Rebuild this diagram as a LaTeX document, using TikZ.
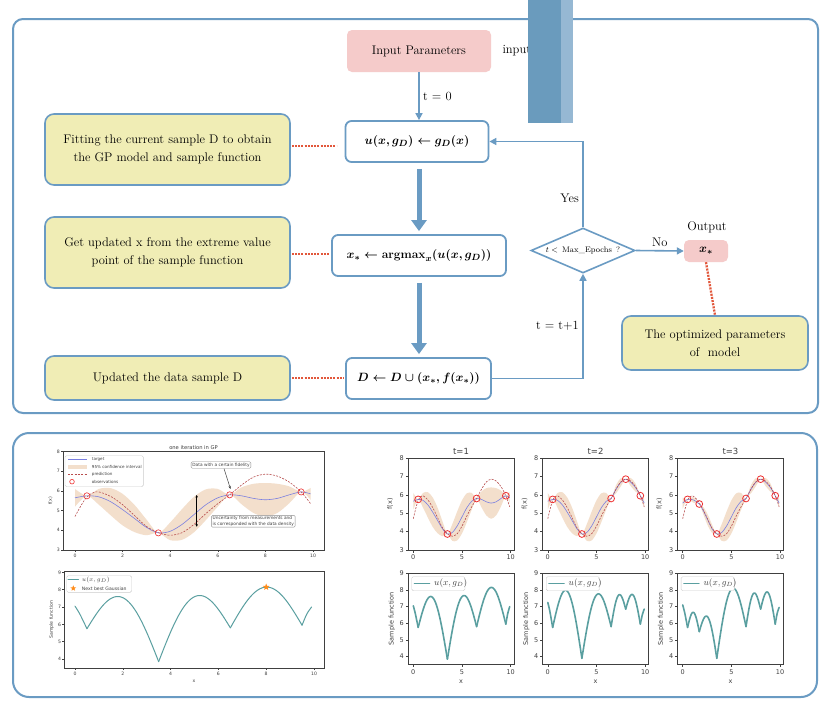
\documentclass[tikz,border=0pt]{standalone}
\usepackage{fontspec}
\newfontfamily\plotfont{DejaVu Sans}
\usetikzlibrary{arrows.meta,shapes.geometric,calc}
\definecolor{fblue}{HTML}{6A9BC3}
\definecolor{pinkf}{HTML}{F5CBCA}
\definecolor{yellf}{HTML}{F0EDB5}
\definecolor{redd}{HTML}{E2573B}
\definecolor{barA}{HTML}{6A9BBD}
\definecolor{barB}{HTML}{96B8D3}
\definecolor{axc}{HTML}{404040}
\definecolor{bandc}{HTML}{F3DFCC}
\definecolor{tgtc}{HTML}{7A7FE0}
\definecolor{predc}{HTML}{B84D4D}
\definecolor{obsc}{HTML}{EE3030}
\definecolor{tealc}{HTML}{5A9FA0}
\definecolor{starc}{HTML}{FF8C1A}
\definecolor{legc}{HTML}{CCCCCC}
\tikzset{
  outframe/.style={draw=fblue, line width=2pt},
  lbl/.style={font=\fontsize{12.5}{15}\selectfont},
  procbox/.style={draw=fblue, line width=1.8pt, fill=white, rounded corners=6pt, minimum height=41pt, inner sep=0pt, font=\fontsize{12.5}{15}\selectfont\boldmath},
  notebox/.style={draw=fblue, line width=1.6pt, fill=yellf, rounded corners=9pt, align=center, inner sep=0pt, minimum width=245pt, font=\fontsize{12.5}{18.3}\selectfont},
  pinkbox/.style={fill=pinkf, rounded corners=5pt, inner sep=0pt},
  dotl/.style={draw=redd, line width=2.3pt, dash pattern=on 2pt off 1.2pt},
  tarrow/.style={draw=fblue, line width=1.6pt, -{Triangle[length=7pt,width=7pt]}},
  karrow/.style={draw=fblue, line width=5pt, -{Triangle[length=11pt,width=15pt]}},
  axf/.style={draw=axc, line width=0.5pt},
  tkS/.style={font=\plotfont\fontsize{6.5}{7}\selectfont, inner sep=0pt, text=axc},
  tkL/.style={font=\plotfont\fontsize{4.6}{5}\selectfont, inner sep=0pt, text=axc},
  tgtl/.style={draw=tgtc, line width=0.6pt},
  predl/.style={draw=predc, line width=0.6pt, dash pattern=on 2pt off 1.3pt},
  obsS/.style={draw=obsc, line width=0.8pt},
  samp/.style={draw=tealc, line width=1.6pt, line cap=round, line join=round},
  legbox/.style={draw=legc, line width=0.4pt, fill=white, rounded corners=1.5pt},
}
% curves
\newcommand{\predcurve}{\draw[predl] plot[smooth] coordinates {(0,4.7) (0.25,5.25) (0.5,5.7) (0.75,5.9) (1,5.95) (1.5,5.72) (2,5.3) (2.5,4.75) (3,4.2) (3.5,3.88) (4,3.75) (4.5,3.88) (5,4.3) (5.5,4.85) (6,5.35) (6.5,5.8) (7,6.3) (7.5,6.7) (8,6.85) (8.5,6.75) (9,6.45) (9.5,5.95) (9.9,5.35)};}
\newcommand{\meanone}{\draw[tgtl] plot[smooth] coordinates {(0,5.65) (0.5,5.75) (1,5.7) (1.5,5.45) (2,5.05) (2.5,4.6) (3,4.15) (3.5,3.87) (4,3.95) (4.5,4.3) (5,4.8) (5.5,5.3) (6,5.65) (6.5,5.8) (7,5.75) (7.5,5.62) (8,5.55) (8.5,5.62) (9,5.8) (9.5,5.95) (9.9,5.85)};}
\newcommand{\bandone}{\fill[bandc] plot[smooth] coordinates {(0,6.10) (0.5,5.75) (1,6.10) (1.5,6.14) (2,5.85) (2.5,5.29) (3,4.55) (3.5,3.87) (4,4.40) (4.5,5.08) (5,5.70) (5.5,6.08) (6,6.10) (6.5,5.80) (7,6.18) (7.5,6.36) (8,6.40) (8.5,6.36) (9,6.23) (9.5,5.95) (9.9,6.15)} -- plot[smooth] coordinates {(9.9,5.55) (9.5,5.95) (9,5.37) (8.5,4.88) (8,4.70) (7.5,4.88) (7,5.32) (6.5,5.80) (6,5.20) (5.5,4.52) (5,3.90) (4.5,3.52) (4,3.50) (3.5,3.87) (3,3.75) (2.5,3.91) (2,4.25) (1.5,4.76) (1,5.30) (0.5,5.75) (0,5.20)} -- cycle;}
\newcommand{\meantwo}{\draw[tgtl] plot[smooth] coordinates {(0,5.65) (0.5,5.75) (1,5.7) (1.5,5.45) (2,5.05) (2.5,4.6) (3,4.15) (3.5,3.87) (4,3.95) (4.5,4.3) (5,4.8) (5.5,5.3) (6,5.65) (6.5,5.8) (7,6.3) (7.5,6.68) (8,6.85) (8.5,6.7) (9,6.4) (9.5,5.95) (9.9,5.55)};}
\newcommand{\bandtwo}{\fill[bandc] plot[smooth] coordinates {(0,6.10) (0.5,5.75) (1,6.10) (1.5,6.14) (2,5.85) (2.5,5.29) (3,4.55) (3.5,3.87) (4,4.40) (4.5,5.08) (5,5.70) (5.5,6.08) (6,6.10) (6.5,5.80) (7,6.52) (7.5,6.90) (8,6.85) (8.5,6.92) (9,6.62) (9.5,5.95) (9.9,5.8)} -- plot[smooth] coordinates {(9.9,5.3) (9.5,5.95) (9,6.18) (8.5,6.48) (8,6.85) (7.5,6.46) (7,6.08) (6.5,5.80) (6,5.20) (5.5,4.52) (5,3.90) (4.5,3.52) (4,3.50) (3.5,3.87) (3,3.75) (2.5,3.91) (2,4.25) (1.5,4.76) (1,5.30) (0.5,5.75) (0,5.20)} -- cycle;}
\newcommand{\meanthree}{\draw[tgtl] plot[smooth] coordinates {(0,5.55) (0.5,5.75) (1.1,5.72) (1.7,5.5) (2.15,5.1) (2.6,4.6) (3.05,4.12) (3.5,3.87) (4,3.95) (4.5,4.3) (5,4.8) (5.5,5.3) (6,5.65) (6.5,5.8) (7,6.3) (7.5,6.68) (8,6.85) (8.5,6.7) (9,6.4) (9.5,5.95) (9.9,5.55)};}
\newcommand{\bandthree}{\fill[bandc] plot[smooth] coordinates {(0,5.85) (0.5,5.75) (1.1,5.87) (1.7,5.5) (2.15,5.31) (2.6,4.9) (3.05,4.33) (3.5,3.87) (4,4.40) (4.5,5.08) (5,5.70) (5.5,6.08) (6,6.10) (6.5,5.80) (7,6.52) (7.5,6.90) (8,6.85) (8.5,6.92) (9,6.62) (9.5,5.95) (9.9,5.8)} -- plot[smooth] coordinates {(9.9,5.3) (9.5,5.95) (9,6.18) (8.5,6.48) (8,6.85) (7.5,6.46) (7,6.08) (6.5,5.80) (6,5.20) (5.5,4.52) (5,3.90) (4.5,3.52) (4,3.50) (3.5,3.87) (3.05,3.91) (2.6,4.3) (2.15,4.89) (1.7,5.5) (1.1,5.57) (0.5,5.75) (0,5.25)} -- cycle;}
\newcommand{\arch}[5]{\draw[samp] plot[domain=#1:#3, samples=40] (\x, {#2 + (#4-#2)*(\x-#1)/(#3-#1) + #5*sin(180*(\x-#1)/(#3-#1))});}
\newcommand{\sampone}{%
  \draw[samp] plot[smooth] coordinates {(0,7.05) (0.2,6.6) (0.5,5.75)};
  \arch{0.5}{5.75}{3.5}{3.85}{2.74}\arch{3.5}{3.85}{6.5}{5.8}{2.77}\arch{6.5}{5.8}{9.5}{5.95}{2.275}
  \draw[samp] plot[smooth] coordinates {(9.5,5.95) (9.7,6.6) (9.9,7.0)};}
% axes for small plots
\newcommand{\topaxes}[2]{%
  \draw[axf] (-0.54,3) rectangle (10.34,8);
  \foreach \v in {0,5,10}{\draw[axf] (\v,3) -- ++(0pt,-2.5pt); \node[tkS] (#1x\v) at ([yshift=-7pt]\v,3) {\v};}
  \foreach \v in {3,...,8}{\draw[axf] (-0.54,\v) -- ++(-2.5pt,0pt); \node[tkS, anchor=east] (#1y\v) at ([xshift=-4pt]-0.54,\v) {\v};}
  \node[tkS, font=\plotfont\fontsize{8.5}{9}\selectfont, anchor=base] (#1t) at ([yshift=4pt]4.9,8) {#2};
  \node[tkS, rotate=90] (#1yl) at ([xshift=-18pt]-0.54,5.5) {f(x)};}
\newcommand{\botaxes}[1]{%
  \draw[axf] (-0.54,3.54) rectangle (10.34,9);
  \foreach \v in {0,5,10}{\draw[axf] (\v,3.54) -- ++(0pt,-2.5pt); \node[tkS] (#1x\v) at ([yshift=-7.4pt]\v,3.54) {\v};}
  \foreach \v in {4,...,9}{\draw[axf] (-0.54,\v) -- ++(-2.5pt,0pt); \node[tkS, anchor=east] (#1y\v) at ([xshift=-4pt]-0.54,\v) {\v};}
  \node[tkS] (#1xl) at ([yshift=-17.4pt]4.9,3.54) {x};
  \node[tkS, rotate=90] (#1yl) at ([xshift=-16.3pt]-0.54,6.27) {Sample function};}
\newcommand{\smalllegend}[2]{%
  \draw[legbox] (411.7+#2,576.7) rectangle (465+#2,590.7);
  \draw[samp] (414.5+#2,583.5) -- (429.5+#2,583.5);
  \node[anchor=west, inner sep=0pt, font=\fontsize{8.8}{9}\selectfont, text=axc] (#1leg) at (434+#2,583.7) {$u(x, g_D)$};}
\newcommand{\circs}[1]{\foreach \p/\q in {#1} \draw[obsS] (\p,\q) circle[radius=3.4pt];}

\begin{document}
\begin{tikzpicture}[x=1pt,y=-1pt]
\useasboundingbox (0,0) rectangle (831,718);
\fill[white] (0,0) rectangle (831,718);

% frames
\draw[outframe, rounded corners=10pt] (13,19) rectangle (818,413);
\draw[outframe, rounded corners=16pt] (13,433) rectangle (817,697);

% ---------------- flowchart
\node[pinkbox, lbl, minimum width=144pt, minimum height=42pt] (inp) at (419,51) {Input Parameters};
\node[lbl, anchor=west] (inptxt) at (499,51) {input};
\fill[barA] (528,0) rectangle (561,123);
\fill[barB] (561,0) rectangle (573,123);

\node[procbox, minimum width=143pt] (u) at (417,141.5) {$u(x,g_D)\leftarrow g_D(x)$};
\node[procbox, minimum width=174pt] (am) at (419,255.5) {$x_*\leftarrow \mathbf{argmax}_x(u(x,g_D))$};
\node[procbox, minimum width=145pt] (dd) at (418.5,378.5) {$D\leftarrow D\cup(x_*,f(x_*))$};
\node[diamond, draw=fblue, line width=1.6pt, fill=white, minimum width=104pt, minimum height=45pt, inner sep=0pt] (dia) at (583,250.5) {};
\node[font=\fontsize{8}{9}\selectfont] (diat) at (dia.center) {$t<$ \,Max\_Epochs \,?};
\node[pinkbox, minimum width=44pt, minimum height=22pt, font=\fontsize{13}{15}\selectfont\boldmath] (out) at (706,251) {$x_*$};
\node[lbl] (outl) at (707,227) {Output};

\node[notebox, minimum height=71pt] (n1) at (167.5,149.5) {Fitting the current sample D to obtain\\the GP model and sample function};
\node[notebox, minimum height=71pt] (n2) at (167.5,252.5) {Get updated x from the extreme value\\point of the sample function};
\node[notebox, minimum height=44pt] (n3) at (167.5,378) {Updated the data sample D};
\node[notebox, minimum width=186pt, minimum height=54pt] (n4) at (715,343) {The optimized parameters\\of\ \ model};

\draw[tarrow] (inp.south) -- (inp.south |- u.north) node[lbl, midway, right] (t0) {t = 0};
\draw[karrow, shorten <=6pt, shorten >=3pt] (u.south -| am.north) -- (am.north);
\draw[karrow, shorten <=6pt, shorten >=3pt] (am.south) -- (am.south |- dd.north);
\draw[tarrow] (dd.east) -| (dia.south) node[lbl, pos=0.75, left] (tinc) {t = t+1};
\draw[tarrow] (dia.north) |- (u.east) node[lbl, pos=0.17, left] (yes) {Yes};
\draw[tarrow] (dia.east) -- (out.west) node[lbl, midway, above] (no) {No};

\draw[dotl] ($(n1.east)+(1,-3.5)$) -- ($(n1.east -| u.west)+(-8,-3.5)$);
\draw[dotl] ($(n2.east)+(1,1.8)$) -- ($(n2.east -| am.west)+(-2,1.8)$);
\draw[dotl] ($(n3.east)+(1,0.3)$) -- ($(n3.east -| dd.west)+(-1,0.3)$);
\draw[dotl] (out.south) -- (n4.north);

% ---------------- Plot A : one iteration in GP
\begin{scope}[shift={(75pt,-609.1pt)}, x=23.8pt, y=19.7pt]
  \bandone
  \meanone
  \predcurve
  \foreach \p/\q in {0.5/5.75,3.5/3.87,6.5/5.8,9.5/5.95} \draw[obsS, line width=0.6pt] (\p,\q) circle[radius=3.1pt];
  \draw[axf] (-0.5,3) rectangle (10.46,8);
  \foreach \v in {0,2,...,10}{\draw[axf] (\v,3) -- ++(0pt,-2pt); \node[tkL] (ax\v) at ([yshift=-5.5pt]\v,3) {\v};}
  \foreach \v in {3,...,8}{\draw[axf] (-0.5,\v) -- ++(-2pt,0pt); \node[tkL, anchor=east] (ay\v) at ([xshift=-3pt]-0.5,\v) {\v};}
  \node[tkL, font=\plotfont\fontsize{5.2}{6}\selectfont, anchor=base] (atitle) at ([yshift=2.5pt]4.98,8) {one iteration in GP};
  \node[tkL, rotate=90] (aylab) at ([xshift=-12.6pt]-0.5,5.5) {f(x)};
\end{scope}
% legend A
\draw[legbox] (65,455.7) rectangle (143.3,486.7);
\draw[tgtl] (68,459.3) -- (87,459.3);
\fill[bandc] (68,464.8) rectangle (87,468.6);
\draw[predl] (68,474.3) -- (87,474.3);
\draw[obsS, line width=0.6pt] (72,481.7) circle[radius=2.3pt];
\node[tkL, font=\plotfont\fontsize{4.1}{5}\selectfont, anchor=west] (la1) at (91.7,459.3) {target};
\node[tkL, font=\plotfont\fontsize{4.1}{5}\selectfont, anchor=west] (la2) at (91.7,466.7) {95\% confidence interval};
\node[tkL, font=\plotfont\fontsize{4.1}{5}\selectfont, anchor=west] (la3) at (91.7,474.3) {prediction};
\node[tkL, font=\plotfont\fontsize{4.1}{5}\selectfont, anchor=west] (la4) at (91.7,481.7) {observations};
% annotations A
\node[draw=axc!60, line width=0.4pt, fill=white, rounded corners=1.2pt, inner sep=1.2pt, font=\plotfont\fontsize{4.3}{5}\selectfont, text=axc] (ann1) at (221,465) {Data with a certain fidelity};
\coordinate (ann1tip) at (230.5,489);
\draw[axc, line width=0.5pt, -{Stealth[length=3pt,width=2.5pt]}] (224,468.6) -- (ann1tip);
\coordinate (dbA) at (196.7,495);
\coordinate (dbB) at (196.7,526.7);
\draw[black, line width=0.6pt, {Stealth[length=2.5pt,width=2.5pt]}-{Stealth[length=2.5pt,width=2.5pt]}] (dbA) -- (dbB);
\node[draw=axc!60, line width=0.4pt, fill=white, rounded corners=1.2pt, inner sep=1.2pt, align=left, font=\plotfont\fontsize{4.3}{5.2}\selectfont, text=axc] (ann2) at (253.3,521.3) {Uncertainty from measurements and\\is corresponded with the data density};

% ---------------- Plot B : sample function
\begin{scope}[shift={(75pt,-728.4pt)}, x=23.9pt, y=17.34pt]
  \begin{scope}[samp/.append style={line width=1pt}]
  \sampone
  \end{scope}
  \node[star, star points=5, star point ratio=2.3, fill=starc, inner sep=0pt, minimum size=7pt] (bst) at (8,8.15) {};
  \draw[axf] (-0.45,3.46) rectangle (10.42,9.09);
  \foreach \v in {0,2,...,10}{\draw[axf] (\v,3.46) -- ++(0pt,-2pt); \node[tkL] (bx\v) at ([yshift=-5pt]\v,3.46) {\v};}
  \foreach \v in {4,...,9}{\draw[axf] (-0.45,\v) -- ++(-2pt,0pt); \node[tkL, anchor=east] (by\v) at ([xshift=-3pt]-0.45,\v) {\v};}
  \node[tkL] (bxl) at ([yshift=-12.7pt]4.98,3.46) {x};
  \node[tkL, rotate=90] (byl) at ([xshift=-12.6pt]-0.45,6.27) {Sample function};
\end{scope}
\draw[legbox] (66.7,575.7) rectangle (131.7,592.3);
\draw[samp, line width=1pt] (68,579.5) -- (78.5,579.5);
\node[star, star points=5, star point ratio=2.3, fill=starc, inner sep=0pt, minimum size=6pt] (lbst) at (73.3,588.3) {};
\node[anchor=west, inner sep=0pt, font=\fontsize{6}{6}\selectfont, text=axc] (lb1) at (81.7,579.5) {$u(x, g_D)$};
\node[tkL, font=\plotfont\fontsize{4.6}{5}\selectfont, anchor=west] (lb2) at (81.7,588.3) {Next best Gaussian};

% ---------------- small plots: top row
\begin{scope}[shift={(413.3pt,-605.2pt)}, x=9.74pt, y=18.4pt]
  \bandone \meanone \predcurve
  \circs{0.5/5.75,3.5/3.87,6.5/5.8,9.5/5.95}
  \topaxes{pa}{t=1}
\end{scope}
\begin{scope}[shift={(547.8pt,-605.2pt)}, x=9.74pt, y=18.4pt]
  \bandtwo \meantwo \predcurve
  \circs{0.5/5.75,3.5/3.87,6.5/5.8,8/6.85,9.5/5.95}
  \topaxes{pb}{t=2}
\end{scope}
\begin{scope}[shift={(682.7pt,-605.2pt)}, x=9.74pt, y=18.4pt]
  \bandthree \meanthree \predcurve
  \circs{0.5/5.75,1.7/5.5,3.5/3.87,6.5/5.8,8/6.85,9.5/5.95}
  \topaxes{pc}{t=3}
\end{scope}

% ---------------- small plots: bottom row
\begin{scope}[shift={(413.3pt,-723.3pt)}, x=9.74pt, y=16.67pt]
  \sampone
  \botaxes{qa}
\end{scope}
\begin{scope}[shift={(547.8pt,-723.3pt)}, x=9.74pt, y=16.67pt]
  \draw[samp] plot[smooth] coordinates {(0,7.25) (0.2,6.75) (0.5,5.75)};
  \arch{0.5}{5.75}{3.5}{3.9}{3.1}\arch{3.5}{3.9}{6.5}{5.8}{2.85}\arch{6.5}{5.8}{8}{6.85}{1.35}\arch{8}{6.85}{9.5}{5.95}{1.3}
  \draw[samp] plot[smooth] coordinates {(9.5,5.95) (9.7,6.5) (9.9,6.85)};
  \botaxes{qb}
\end{scope}
\begin{scope}[shift={(682.7pt,-723.3pt)}, x=9.74pt, y=16.67pt]
  \draw[samp] plot[smooth] coordinates {(0,7.1) (0.2,6.65) (0.5,5.75)};
  \arch{0.5}{5.75}{1.7}{5.5}{1.03}\arch{1.7}{5.5}{3.5}{3.9}{1.65}\arch{3.5}{3.9}{6.5}{5.8}{3.2}\arch{6.5}{5.8}{8}{6.85}{1.45}\arch{8}{6.85}{9.5}{5.95}{1.45}
  \draw[samp] plot[smooth] coordinates {(9.5,5.95) (9.7,6.6) (9.9,6.95)};
  \botaxes{qc}
\end{scope}
\smalllegend{ra}{0}
\smalllegend{rb}{134.5}
\smalllegend{rc}{269.4}
\end{tikzpicture}
\end{document}
